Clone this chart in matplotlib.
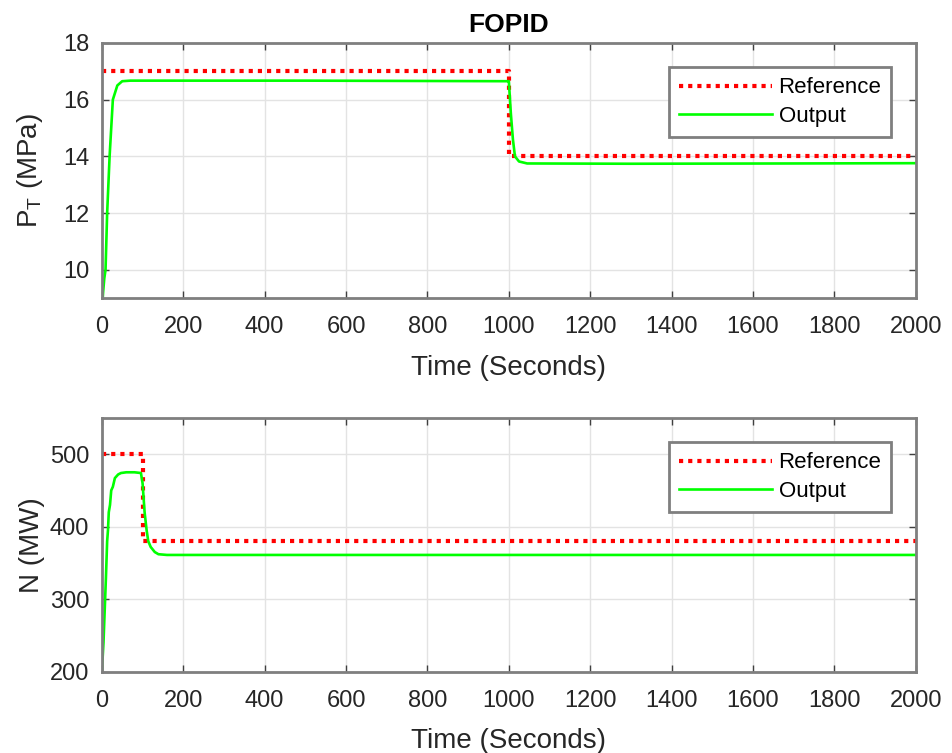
import numpy as np
import matplotlib
matplotlib.use("Agg")
import matplotlib.pyplot as plt

plt.rcParams['font.family'] = ['Liberation Sans', 'DejaVu Sans']
plt.rcParams['mathtext.fontset'] = 'custom'
plt.rcParams['mathtext.rm'] = 'Liberation Sans'
plt.rcParams['mathtext.it'] = 'Liberation Sans'

# top panel: turbine pressure P_T
pt_ref_t = [0, 1000, 1000, 2000]
pt_ref_v = [17, 17, 14, 14]
pt_out_t = [0, 3, 6, 9, 13, 19, 27, 38, 50, 70, 100, 500, 999,
            1000, 1005, 1010, 1015, 1025, 1045, 1300, 1700, 2000]
pt_out_v = [8.5, 9.2, 9.7, 10.0, 12.0, 14.0, 16.0, 16.5, 16.65, 16.67, 16.67, 16.67, 16.65,
            16.65, 15.5, 14.6, 14.0, 13.82, 13.75, 13.74, 13.75, 13.76]

# bottom panel: power N
n_ref_t = [0, 100, 100, 2000]
n_ref_v = [500, 500, 380, 380]
n_out_t = [0, 4, 7, 10, 13, 15, 17, 20, 23, 27, 32, 40, 47, 60, 80, 96,
           100, 105, 110, 114, 120, 130, 139, 160, 500, 1000, 2000]
n_out_v = [200, 240, 285, 330, 380, 395, 420, 430, 450, 455, 467, 472, 474, 475, 475, 474,
           460, 420, 395, 380, 372, 365, 362, 361, 361, 361, 361]

xticks = np.arange(0, 2001, 200)

fig = plt.figure(figsize=(9.52, 7.53), dpi=100)
ax1 = fig.add_axes([0.107, 0.604, 0.855, 0.339])
ax2 = fig.add_axes([0.107, 0.108, 0.855, 0.337])

panels = [
    (ax1, pt_ref_t, pt_ref_v, pt_out_t, pt_out_v, (9, 18), [10, 12, 14, 16, 18], 'P$_{T}$ (MPa)'),
    (ax2, n_ref_t, n_ref_v, n_out_t, n_out_v, (200, 550), [200, 300, 400, 500], 'N (MW)'),
]

for ax, rt, rv, ot, ov, ylim, yt, ylab in panels:
    ax.plot(rt, rv, color='#ff0000', linestyle=(0, (1, 1.2)), linewidth=3, label='Reference')
    ax.plot(ot, ov, color='#00ff00', linewidth=1.9, label='Output')
    ax.set_xlim(0, 2000)
    ax.set_ylim(*ylim)
    ax.set_xticks(xticks)
    ax.set_yticks(yt)
    ax.grid(True, color='#e3e3e3', linewidth=1)
    ax.set_axisbelow(True)
    for sp in ax.spines.values():
        sp.set_color('#7f7f7f')
        sp.set_linewidth(2)
    ax.tick_params(direction='in', top=True, right=True, length=5, width=1,
                   color='#404040', labelsize=17, labelcolor='#262626')
    ax.tick_params(axis='x', pad=13)
    ax.tick_params(axis='y', pad=9)
    ax.set_xlabel('Time (Seconds)', fontsize=20, color='#262626', labelpad=12)
    ax.set_ylabel(ylab, fontsize=20, color='#262626')
    ax.yaxis.set_label_coords(-0.07, 0.5)
    leg = ax.legend(loc='upper right', fontsize=16, fancybox=False, framealpha=1,
                    handlelength=4.2, handletextpad=0.3, borderaxespad=1.1,
                    borderpad=0.45, labelspacing=0.35)
    leg.get_frame().set_edgecolor('#7f7f7f')
    leg.get_frame().set_linewidth(2)

ax1.set_title('FOPID', fontsize=19, fontweight='bold', pad=8)

fig.savefig('out.png', dpi=100)
